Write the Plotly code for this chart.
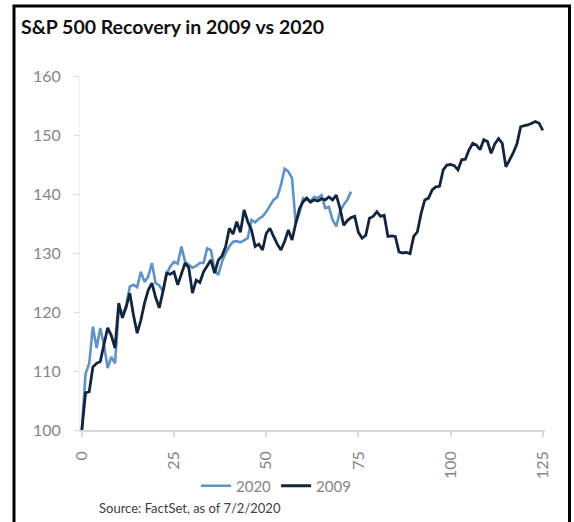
import plotly.graph_objects as go

# Index level (start = 100), trading days from the market low
days_2009 = list(range(126))
level_2009 = [
    100.0, 106.3, 106.5, 110.7, 111.3, 111.6, 114.5, 117.3, 116.0, 113.9,
    121.5, 119.0, 120.8, 123.2, 119.5, 116.4, 118.6, 121.5, 123.7, 124.9,
    122.5, 120.7, 123.5, 126.6, 126.4, 126.8, 124.6, 126.5, 128.3, 127.5,
    123.2, 125.4, 125.0, 126.8, 127.7, 128.8, 126.6, 128.8, 129.5, 131.1,
    134.2, 133.2, 135.3, 133.5, 137.3, 135.3, 133.9, 131.1, 131.5, 130.5,
    133.3, 134.2, 132.8, 131.5, 130.5, 132.0, 133.9, 132.2, 135.0, 137.5,
    138.7, 139.3, 138.6, 139.0, 138.8, 139.2, 139.0, 139.5, 139.0, 139.8,
    137.6, 134.7, 135.5, 136.0, 136.2, 133.5, 132.5, 133.0, 135.9, 136.2,
    137.0, 136.2, 136.4, 132.8, 132.9, 132.8, 130.2, 130.0, 130.1, 129.9,
    132.8, 133.6, 136.7, 139.0, 139.3, 140.7, 141.2, 141.3, 144.1, 144.9,
    145.0, 144.8, 144.1, 145.8, 145.9, 147.5, 148.6, 148.3, 147.5, 149.2,
    148.9, 146.9, 148.5, 149.4, 148.6, 144.6, 145.8, 147.0, 148.5, 151.4,
    151.6, 151.7, 152.0, 152.3, 152.0, 150.8,
]

days_2020 = list(range(74))
level_2020 = [
    100.0, 109.5, 111.3, 117.5, 113.9, 117.3, 114.4, 110.5, 112.4, 111.3,
    120.3, 119.5, 121.0, 124.3, 124.6, 124.2, 126.8, 125.1, 126.0, 128.3,
    124.9, 124.5, 123.5, 126.5, 127.7, 128.5, 128.2, 131.1, 128.5, 128.0,
    127.5, 127.8, 128.3, 128.3, 130.8, 130.5, 127.1, 126.3, 128.5, 130.0,
    131.1, 131.9, 132.0, 131.8, 132.2, 132.5, 135.6, 135.2, 135.8, 136.2,
    137.0, 137.9, 139.0, 139.5, 141.5, 144.3, 143.8, 142.7, 135.0, 136.7,
    139.3, 139.0, 138.8, 139.5, 139.3, 139.8, 137.6, 137.8, 135.6, 134.5,
    137.0, 138.2, 139.0, 140.4,
]

x_ticks = [0, 25, 50, 75, 100, 125]
y_ticks = [100, 110, 120, 130, 140, 150, 160]

COLOR_2020 = "#5f92c6"
COLOR_2009 = "#13243e"
AXIS_GRAY = "#d9d9d9"
LABEL_GRAY = "#858585"

fig = go.Figure()
fig.add_trace(go.Scatter(
    x=days_2020, y=level_2020, mode="lines", name="2020",
    line=dict(color=COLOR_2020, width=2.6),
))
fig.add_trace(go.Scatter(
    x=days_2009, y=level_2009, mode="lines", name="2009",
    line=dict(color=COLOR_2009, width=2.8),
))

W, H = 574, 522
L, R, T, B = 80, 29, 76, 92

fig.update_layout(
    width=W, height=H,
    margin=dict(l=L, r=R, t=T, b=B, autoexpand=False),
    paper_bgcolor="white", plot_bgcolor="white",
    font=dict(family="Lato", color=LABEL_GRAY),
    title=dict(
        text="<b>S&P 500 Recovery in 2009 vs 2020</b>",
        font=dict(family="Lato", size=19.5, color="#111111"),
        xref="container", yref="container",
        x=21 / W, xanchor="left", y=1 - 27 / H, yanchor="middle",
    ),
    xaxis=dict(
        range=[-0.5, 125.6], tickvals=x_ticks, tickangle=-90,
        showgrid=False, zeroline=False, automargin=False,
        showline=True, linecolor=AXIS_GRAY, linewidth=1.5,
        ticks="outside", ticklen=5, tickcolor=AXIS_GRAY, tickwidth=1.5,
        ticklabelstandoff=8,
        tickfont=dict(family="Lato", size=16, color=LABEL_GRAY),
    ),
    yaxis=dict(
        range=[100, 160], tickvals=y_ticks,
        showgrid=False, zeroline=False, automargin=False,
        showline=True, linecolor="#eeeeee", linewidth=1,
        ticks="outside", ticklen=5, tickcolor=AXIS_GRAY, tickwidth=1,
        ticklabelstandoff=10,
        tickfont=dict(family="Lato", size=16, color=LABEL_GRAY),
    ),
    legend=dict(
        orientation="h", xref="container", yref="container",
        x=196 / W, xanchor="left", y=1 - 486 / H, yanchor="middle",
        font=dict(family="Lato", size=15, color=LABEL_GRAY),
        itemwidth=30, tracegroupgap=0,
        bgcolor="rgba(0,0,0,0)",
    ),
    showlegend=True,
)

fig.add_annotation(
    text="Source: FactSet, as of 7/2/2020",
    xref="paper", yref="paper",
    x=(97 - L) / (W - L - R), xanchor="left",
    y=-(508 - (H - B)) / (H - T - B), yanchor="middle",
    showarrow=False,
    font=dict(family="Lato", size=13, color="#404040"),
)

# Black frame around the chart (open at the bottom edge)
pw, ph = W - L - R, H - T - B
fx0 = (14 - L) / pw
fx1 = (569.5 - L) / pw
fy1 = (H - B - 6) / ph
fy0 = (H - B - 540) / ph
fig.add_shape(
    type="path", xref="paper", yref="paper",
    path=f"M {fx0},{fy0} L {fx0},{fy1} L {fx1},{fy1} L {fx1},{fy0}",
    line=dict(color="black", width=3),
)

fig.write_html("out.html")
